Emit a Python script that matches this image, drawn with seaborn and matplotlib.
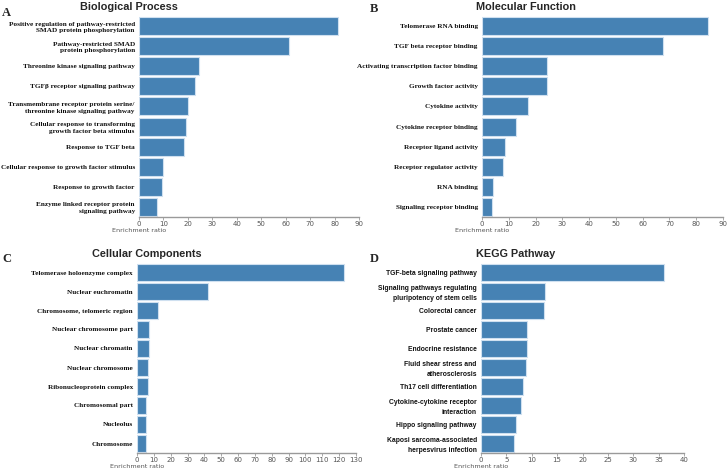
import matplotlib
matplotlib.use("Agg")
import matplotlib.pyplot as plt
import seaborn as sns
import pandas as pd

sns.set_style("white")

# ---- data ----
bp_terms = ["Positive regulation of pathway-restricted\nSMAD protein phosphorylation",
            "Pathway-restricted SMAD\nprotein phosphorylation",
            "Threonine kinase signaling pathway",
            "TGFβ receptor signaling pathway",
            "Transmembrane receptor protein serine/\nthreonine kinase signaling pathway",
            "Cellular response to transforming\ngrowth factor beta stimulus",
            "Response to TGF beta",
            "Cellular response to growth factor stimulus",
            "Response to growth factor",
            "Enzyme linked receptor protein\nsignaling pathway"]
bp_ratio = [81.6, 61.2, 24.5, 23.0, 20.0, 19.3, 18.6, 9.9, 9.5, 7.5]

mf_terms = ["Telomerase RNA binding", "TGF beta receptor binding",
            "Activating transcription factor binding", "Growth factor activity",
            "Cytokine activity", "Cytokine receptor binding",
            "Receptor ligand activity", "Receptor regulator activity",
            "RNA binding", "Signaling receptor binding"]
mf_ratio = [84.3, 67.5, 24.4, 24.4, 17.1, 12.6, 8.5, 7.7, 4.1, 3.7]

cc_terms = ["Telomerase holoenzyme complex", "Nuclear euchromatin",
            "Chromosome, telomeric region", "Nuclear chromosome part",
            "Nuclear chromatin", "Nuclear chromosome",
            "Ribonucleoprotein complex", "Chromosomal part",
            "Nucleolus", "Chromosome"]
cc_ratio = [123.1, 42.2, 12.5, 7.3, 7.3, 6.7, 6.3, 5.5, 5.4, 5.4]

kegg_terms = ["TGF-beta signaling pathway",
              "Signaling pathways regulating\npluripotency of stem cells",
              "Colorectal cancer", "Prostate cancer", "Endocrine resistance",
              "Fluid shear stress and\natherosclerosis",
              "Th17 cell differentiation",
              "Cytokine-cytokine receptor\ninteraction",
              "Hippo signaling pathway",
              "Kaposi sarcoma-associated\nherpesvirus infection"]
kegg_ratio = [36.0, 12.7, 12.4, 9.1, 9.05, 8.9, 8.3, 7.8, 6.9, 6.6]

W, H = 727, 470
fig = plt.figure(figsize=(W / 100, H / 100), dpi=100)

narrow = ["Liberation Sans Narrow", "DejaVu Sans"]


def panel(rect, terms, vals, xmax, step, title, title_xy, letter, letter_xy, label_font, lsize):
    l, t, r, b = rect
    hpx = b - t
    ax = fig.add_axes([l / W, 1 - b / H, (r - l) / W, hpx / H])
    df = pd.DataFrame({"term": terms, "ratio": vals})
    sns.barplot(data=df, x="ratio", y="term", color="#4682b4", saturation=1,
                width=0.9, edgecolor="#cfe0f0", linewidth=0.8, ax=ax)
    ax.set_xlim(0, xmax)
    ax.set_xticks(range(0, xmax + 1, step))
    sns.despine(ax=ax, left=True)
    ax.spines["bottom"].set_color("#9a9a9a")
    ax.spines["bottom"].set_linewidth(1.0)
    ax.tick_params(axis="x", bottom=True, length=2, width=0.6, color="#9a9a9a",
                   labelsize=5, labelcolor="#555555", pad=0.8)
    ax.tick_params(axis="y", left=False, length=0, pad=3)
    ax.set_yticks(range(len(terms)))
    ax.set_yticklabels(terms, family=label_font, fontweight="bold", fontsize=lsize,
                       linespacing=1.45, color="#111111")
    for lab in ax.get_xticklabels():
        lab.set_family(narrow)
    ax.set_ylabel("")
    ax.set_xlabel("Enrichment ratio", fontsize=4.6, color="#555555", family=narrow)
    ax.xaxis.label.set_va("center")
    ax.xaxis.set_label_coords(0, -13 / hpx)
    fig.text(title_xy[0] / W, 1 - title_xy[1] / H, title, fontsize=7.8,
             fontweight="bold", family="Liberation Sans", va="top", ha="left")
    fig.text(letter_xy[0] / W, 1 - letter_xy[1] / H, letter, fontsize=9,
             fontweight="bold", family="Liberation Serif", va="top", ha="left")
    return ax


panel((139, 16, 359, 217), bp_terms, bp_ratio, 90, 10, "Biological Process",
      (80, 2), "A", (2, 7), "Liberation Serif", 5.2)
panel((482, 16, 723, 217), mf_terms, mf_ratio, 90, 10, "Molecular Function",
      (476, 2), "B", (370, 3), "Liberation Serif", 5.2)
panel((137, 263, 356, 453), cc_terms, cc_ratio, 130, 10, "Cellular Components",
      (92, 249), "C", (2, 253), "Liberation Serif", 5.2)
panel((481, 263, 684, 453), kegg_terms, kegg_ratio, 40, 5, "KEGG Pathway",
      (476, 249), "D", (370, 253), "Liberation Sans", 4.9)

fig.savefig("out.png", dpi=100)
